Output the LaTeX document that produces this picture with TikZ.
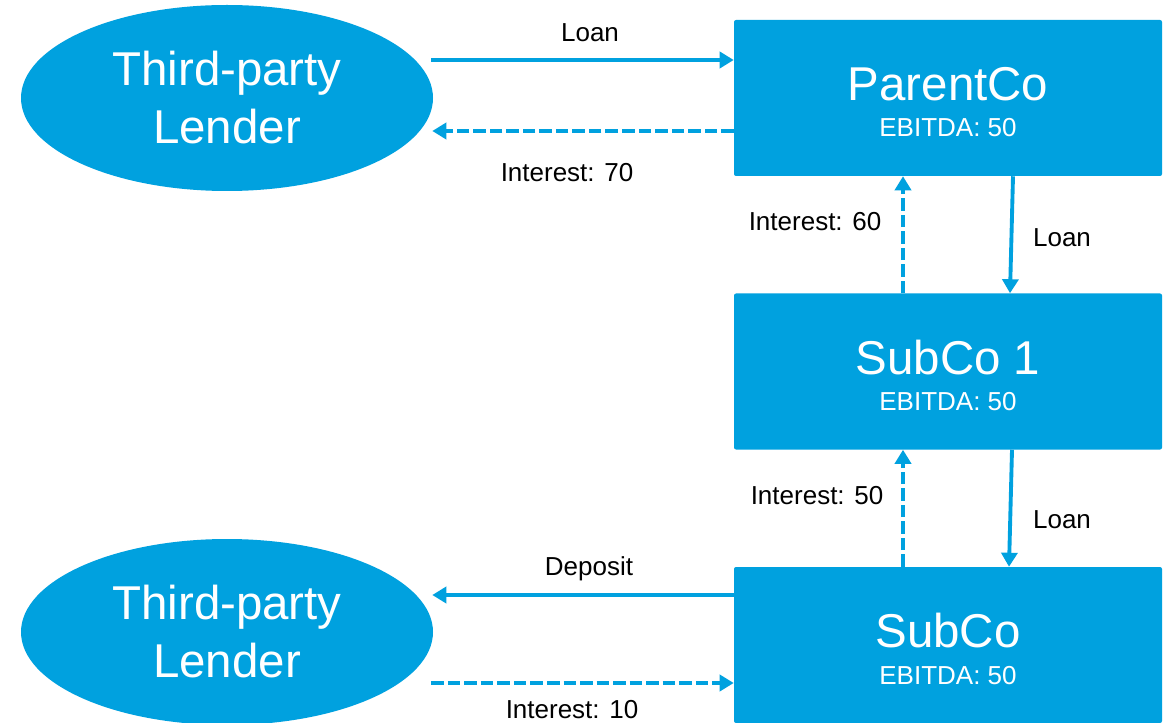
\documentclass[tikz,border=0pt]{standalone}
\usepackage{fontspec}
\setmainfont{Liberation Sans}
\usetikzlibrary{arrows.meta,shapes.geometric,calc}
\definecolor{corpblue}{RGB}{0,161,223}
\tikzset{
  lender/.style={ellipse, fill=corpblue, draw=none, minimum width=309pt, minimum height=139.5pt, inner sep=0pt,
    text=white, align=center, font=\fontsize{35.6pt}{43.5pt}\selectfont},
  cobox/.style={rectangle, fill=corpblue, draw=none, rounded corners=1.5pt, minimum width=321pt, minimum height=117pt, inner sep=0pt},
  cotitle/.style={anchor=base, text=white, inner sep=0pt, font=\fontsize{35.6pt}{42pt}\selectfont},
  cosub/.style={anchor=base, text=white, inner sep=0pt, font=\fontsize{19.5pt}{23pt}\selectfont},
  lbl/.style={anchor=base, text=black, inner sep=0pt, font=\fontsize{19.5pt}{23pt}\selectfont},
  flow/.style={draw=corpblue, line width=2.9pt, -{Triangle[length=10.5pt,width=12pt]}},
  intflow/.style={flow, dash pattern=on 9.4pt off 3pt},
}
\begin{document}
\begin{tikzpicture}[x=0.75pt,y=-0.75pt]
\useasboundingbox (0,0) rectangle (1173,723);
\fill[white] (0,0) rectangle (1173,723);

% shapes
\node[lender] (l1) at (227,98) {Third-party\\Lender};
\node[lender] (l2) at (227,632) {Third-party\\Lender};
\node[cobox] (p)  at (948,98) {};
\node[cobox] (s1) at (948,371.5) {};
\node[cobox] (s)  at (948,645) {};

% box texts
\node[cotitle] (pt)  at ($(p.center)+(0,3)$) {ParentCo};
\node[cosub]   (pe)  at ($(p.center)+(0,39)$) {EBITDA: 50};
\node[cotitle] (s1t) at ($(s1.center)+(0,3)$) {SubCo 1};
\node[cosub]   (s1e) at ($(s1.center)+(0,39)$) {EBITDA: 50};
\node[cotitle] (st)  at ($(s.center)+(0,2)$) {SubCo};
\node[cosub]   (se)  at ($(s.center)+(0,39)$) {EBITDA: 50};

% connectors
\draw[flow]    ($(l1.east)+(-2,-38)$) -- ($(p.west)+(0,-38)$);
\draw[intflow] ($(p.west)+(0,33)$) -- ($(l1.east)+(-1,33)$);
\draw[intflow] ($(s1.north)+(-45,0)$) -- ($(p.south)+(-45,0)$);
\draw[flow]    ($(p.south)+(65,0)$) -- ($(s1.north)+(62,0)$);
\draw[intflow] ($(s.north)+(-45,0)$) -- ($(s1.south)+(-45,0)$);
\draw[flow]    ($(s1.south)+(64,0)$) -- ($(s.north)+(61,0)$);
\draw[flow]    ($(s.west)+(0,-50)$) -- ($(l2.east)+(-1,-37)$);
\draw[intflow] ($(l2.east)+(-2,51)$) -- ($(s.west)+(0,38)$);

% labels
\node[lbl] (lab1) at (590,42)  {Loan};
\node[lbl] (lab2) at (567,182) {Interest: 70};
\node[lbl] (lab3) at (815,231) {Interest: 60};
\node[lbl] (lab4) at (1062,247) {Loan};
\node[lbl] (lab5) at (817,504) {Interest: 50};
\node[lbl] (lab6) at (1062,528) {Loan};
\node[lbl] (lab7) at (589,575) {Deposit};
\node[lbl] (lab8) at (572,718.5) {Interest: 10};
\end{tikzpicture}
\end{document}
